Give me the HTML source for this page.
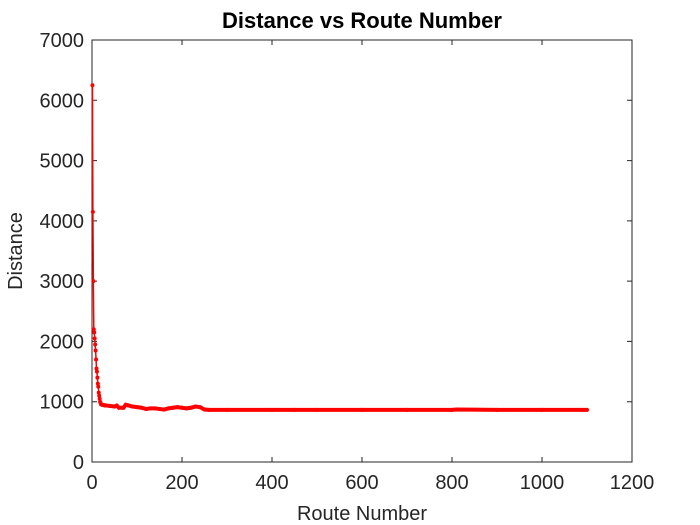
<!DOCTYPE html>
<html><head><meta charset="utf-8"><style>
body{margin:0;background:#fff;}
svg{display:block;font-family:"Liberation Sans",Arial,sans-serif;}
</style></head><body>
<svg id="chart" width="700" height="525">
<rect x="0" y="0" width="700" height="525" fill="#fff"/>
<rect x="92" y="40" width="540" height="422" fill="#fff" stroke="#262626" stroke-width="1"/>
<text x="362" y="28" text-anchor="middle" font-size="22" font-weight="bold" fill="#000">Distance vs Route Number</text>
<text x="362" y="520" text-anchor="middle" font-size="20" fill="#262626">Route Number</text>
<text x="22" y="251" text-anchor="middle" font-size="20" fill="#262626" transform="rotate(-90 22 251)">Distance</text>
<g id="ticks"></g>
<g id="series"></g>
</svg>
<script>
const routes = [1,2,3,4,5,6,7,8,9,10,11,12,13,14,15,16,17,18,20,22,25,28,30,40,50,55,60,70,75,80,90,100,110,120,130,140,150,160,170,180,190,200,210,220,230,240,250,260,300,400,450,500,600,700,800,810,900,1000,1100];
const distances = [6250,4150,3000,2200,2150,2050,1950,1850,1700,1550,1500,1400,1300,1250,1150,1100,1050,1000,960,950,945,940,940,930,920,935,900,900,950,940,920,910,900,880,890,890,880,870,890,900,910,900,890,900,920,910,870,865,865,865,865,865,865,865,865,870,865,865,865];
const xTicks = [0,200,400,600,800,1000,1200];
const yTicks = [0,1000,2000,3000,4000,5000,6000,7000];
const X0=92,X1=632,Y0=462,Y1=40;
const xs=v=>X0+v/1200*(X1-X0);
const ys=v=>Y0-v/7000*(Y0-Y1);
const NS="http://www.w3.org/2000/svg";
const tg=document.getElementById('ticks');
xTicks.forEach(t=>{
  const l=document.createElementNS(NS,'path');
  l.setAttribute('d',`M${xs(t)},${Y0}v-5M${xs(t)},${Y1}v5`);
  l.setAttribute('stroke','#262626');
  
  
  tg.appendChild(l);
  const tx=document.createElementNS(NS,'text');
  tx.setAttribute('x',xs(t));tx.setAttribute('y',Y0+27);
  tx.setAttribute('text-anchor','middle');tx.setAttribute('font-size','20');tx.setAttribute('fill','#262626');
  tx.textContent=t;
  
  
  tg.appendChild(tx);
});
yTicks.forEach(t=>{
  const l=document.createElementNS(NS,'path');
  l.setAttribute('d',`M${X0},${ys(t)}h5M${X1},${ys(t)}h-5`);
  l.setAttribute('stroke','#262626');
  
  
  tg.appendChild(l);
  const tx=document.createElementNS(NS,'text');
  tx.setAttribute('x',X0-8);tx.setAttribute('y',ys(t)+7);
  tx.setAttribute('text-anchor','end');tx.setAttribute('font-size','20');tx.setAttribute('fill','#262626');
  tx.textContent=t;
  
  
  tg.appendChild(tx);
});
const sg=document.getElementById('series');
const p=document.createElementNS(NS,'polyline');
p.setAttribute('points',routes.map((r,i)=>xs(r)+','+ys(distances[i])).join(' '));
p.setAttribute('fill','none');p.setAttribute('stroke','#f00');p.setAttribute('stroke-width','1.5');


sg.appendChild(p);
const thick=document.createElementNS(NS,'polyline');
thick.setAttribute('points',routes.map((r,i)=>r>=18?xs(r)+','+ys(distances[i]):null).filter(Boolean).join(' '));
thick.setAttribute('fill','none');thick.setAttribute('stroke','#f00');thick.setAttribute('stroke-width','4');


sg.appendChild(thick);
routes.forEach((r,i)=>{
  const c=document.createElementNS(NS,'circle');
  c.setAttribute('cx',xs(r));c.setAttribute('cy',ys(distances[i]));c.setAttribute('r','2');
  c.setAttribute('fill','#f00');
  
  
  sg.appendChild(c);
});
</script>
</body></html>
